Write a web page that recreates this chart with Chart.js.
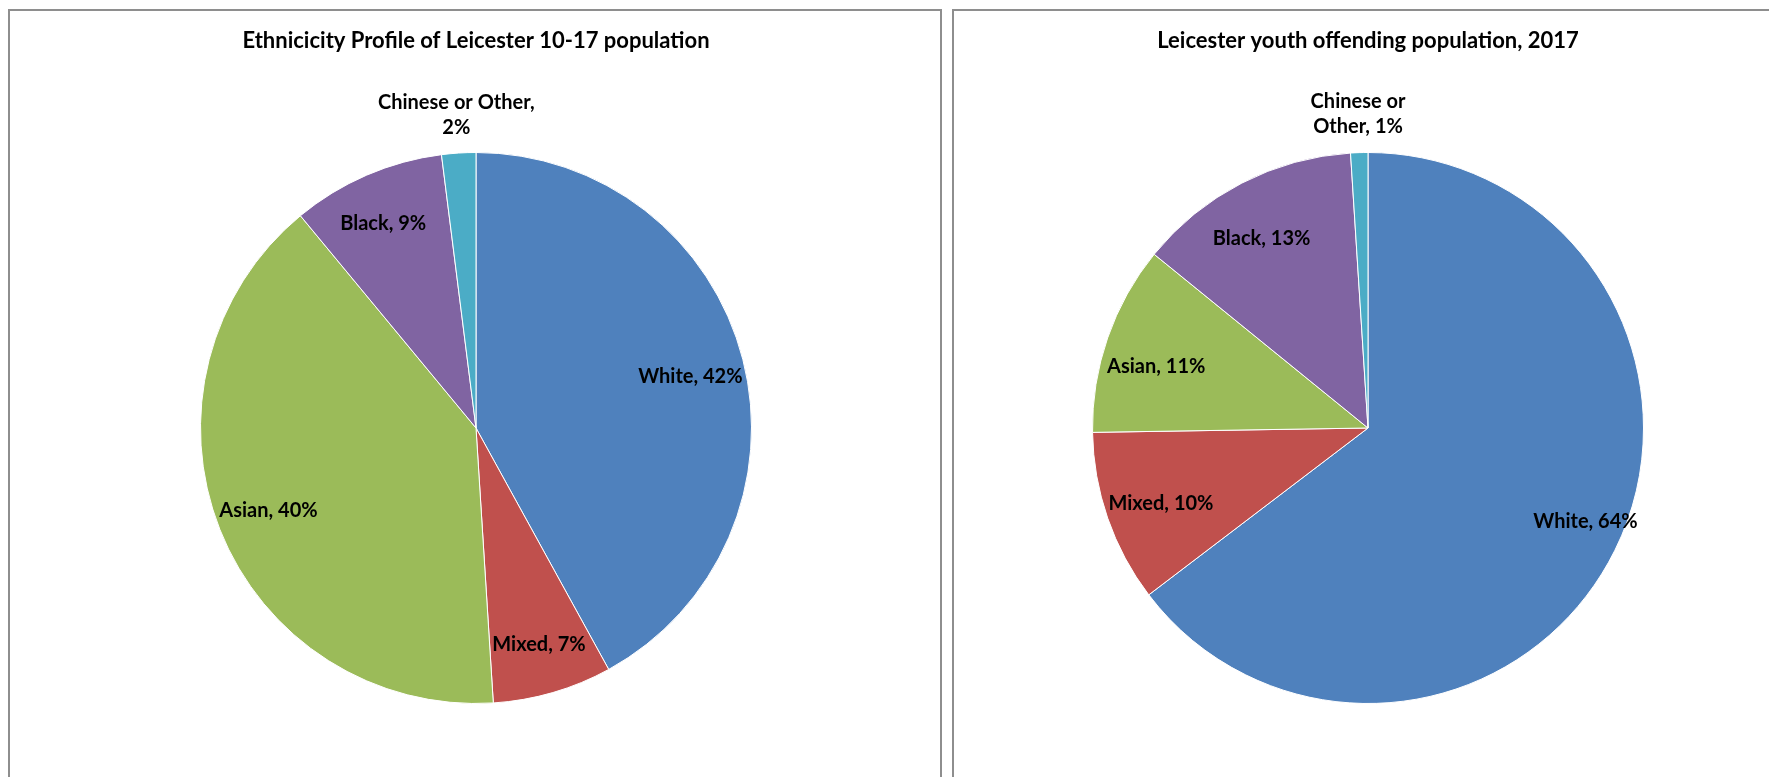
<!DOCTYPE html>
<html>
<head>
<meta charset="utf-8">
<script src="https://cdn.jsdelivr.net/npm/chart.js@4/dist/chart.umd.min.js"></script>
<style>
  html, body { margin: 0; padding: 0; background: #fff; overflow: hidden; }
  body { width: 1769px; height: 777px; position: relative; }
  .panel {
    position: absolute;
    top: 9px;
    height: 820px;
    box-sizing: border-box;
    border: 2px solid #8e8e8e;
    background: #fff;
  }
  #leftPanel { left: 8px; width: 934px; }
  #rightPanel { left: 952px; width: 860px; }
  canvas { display: block; }
</style>
</head>
<body>
<div class="panel" id="leftPanel"><canvas id="populationChart" width="930" height="766"></canvas></div>
<div class="panel" id="rightPanel"><canvas id="offendingChart" width="815" height="766"></canvas></div>

<script>
// categories shared by both pies
const ethnicGroups = ['White', 'Mixed', 'Asian', 'Black', 'Chinese or Other'];
// % of Leicester 10-17 population
const populationShare = [42, 7, 40, 9, 2];
// % of Leicester youth offending population, 2017
const offendingShare = [64, 10, 11, 13, 1];

const sliceColors = ['#4F81BD', '#C0504D', '#9BBB59', '#8064A2', '#4BACC6'];
const FONT = 'Lato, "Open Sans", sans-serif';

// greedy word wrap for the outside labels
function wrapText(ctx, text, maxWidth) {
    const words = text.split(' ');
    const lines = [];
    let line = '';
    words.forEach(w => {
        const test = line ? line + ' ' + w : w;
        if (line && ctx.measureText(test).width > maxWidth) {
            lines.push(line);
            line = w;
        } else {
            line = test;
        }
    });
    if (line) lines.push(line);
    return lines;
}

// "Category, n%" labels, placed along each slice's mid angle
const sliceLabels = {
    id: 'sliceLabels',
    afterDatasetsDraw(chart, args, opts) {
        const ctx = chart.ctx;
        const meta = chart.getDatasetMeta(0);
        const values = chart.data.datasets[0].data;
        ctx.save();
        ctx.font = 'bold ' + opts.size + 'px ' + FONT;
        ctx.fillStyle = '#000';
        ctx.textAlign = 'center';
        ctx.textBaseline = 'middle';
        meta.data.forEach((arc, i) => {
            const p = arc.getProps(['x', 'y', 'startAngle', 'endAngle', 'outerRadius'], true);
            const mid = (p.startAngle + p.endAngle) / 2 + (opts.shift[i] || 0) * Math.PI / 180;
            const f = opts.radius[i];
            const cx = p.x + Math.cos(mid) * p.outerRadius * f;
            const cy = p.y + Math.sin(mid) * p.outerRadius * f;
            const text = chart.data.labels[i] + ', ' + values[i] + '%';
            const lines = f > 1 ? wrapText(ctx, text, opts.wrap) : [text];
            const lh = opts.size * 1.25;
            lines.forEach((ln, k) => {
                ctx.fillText(ln, cx, cy + (k - (lines.length - 1) / 2) * lh);
            });
        });
        ctx.restore();
    }
};

function renderPie(canvasId, values, title, pad, labelOpts) {
    const ctx = document.getElementById(canvasId);
    new Chart(ctx, {
        type: 'pie',
        data: {
            labels: ethnicGroups,
            datasets: [{
                data: values,
                backgroundColor: sliceColors,
                borderColor: '#ffffff',
                borderWidth: 1
            }]
        },
        options: {
            responsive: false,
            animation: false,
            layout: { padding: pad },
            plugins: {
                legend: { display: false },
                tooltip: { enabled: false },
                title: {
                    display: true,
                    text: title,
                    color: '#000',
                    font: { family: FONT, size: 22, weight: 'bold', lineHeight: 1.2 },
                    padding: { top: 17, bottom: 97.6 }
                },
                sliceLabels: labelOpts
            }
        },
        plugins: [sliceLabels]
    });
}

renderPie('populationChart', populationShare, 'Ethnicicity Profile of Leicester 10-17 population',
    { left: 190, right: 188, top: 0, bottom: 73 },
    { size: 20, wrap: 170, radius: [0.8, 0.82, 0.81, 0.815, 1.14], shift: [1, 0, 0, -1, 0] });

renderPie('offendingChart', offendingShare, 'Leicester youth offending population, 2017',
    { left: 138, right: 125, top: 0, bottom: 73 },
    { size: 20, wrap: 112, radius: [0.86, 0.8, 0.8, 0.79, 1.14], shift: [-3, -1, -3, -2, 0] });
</script>
</body>
</html>
